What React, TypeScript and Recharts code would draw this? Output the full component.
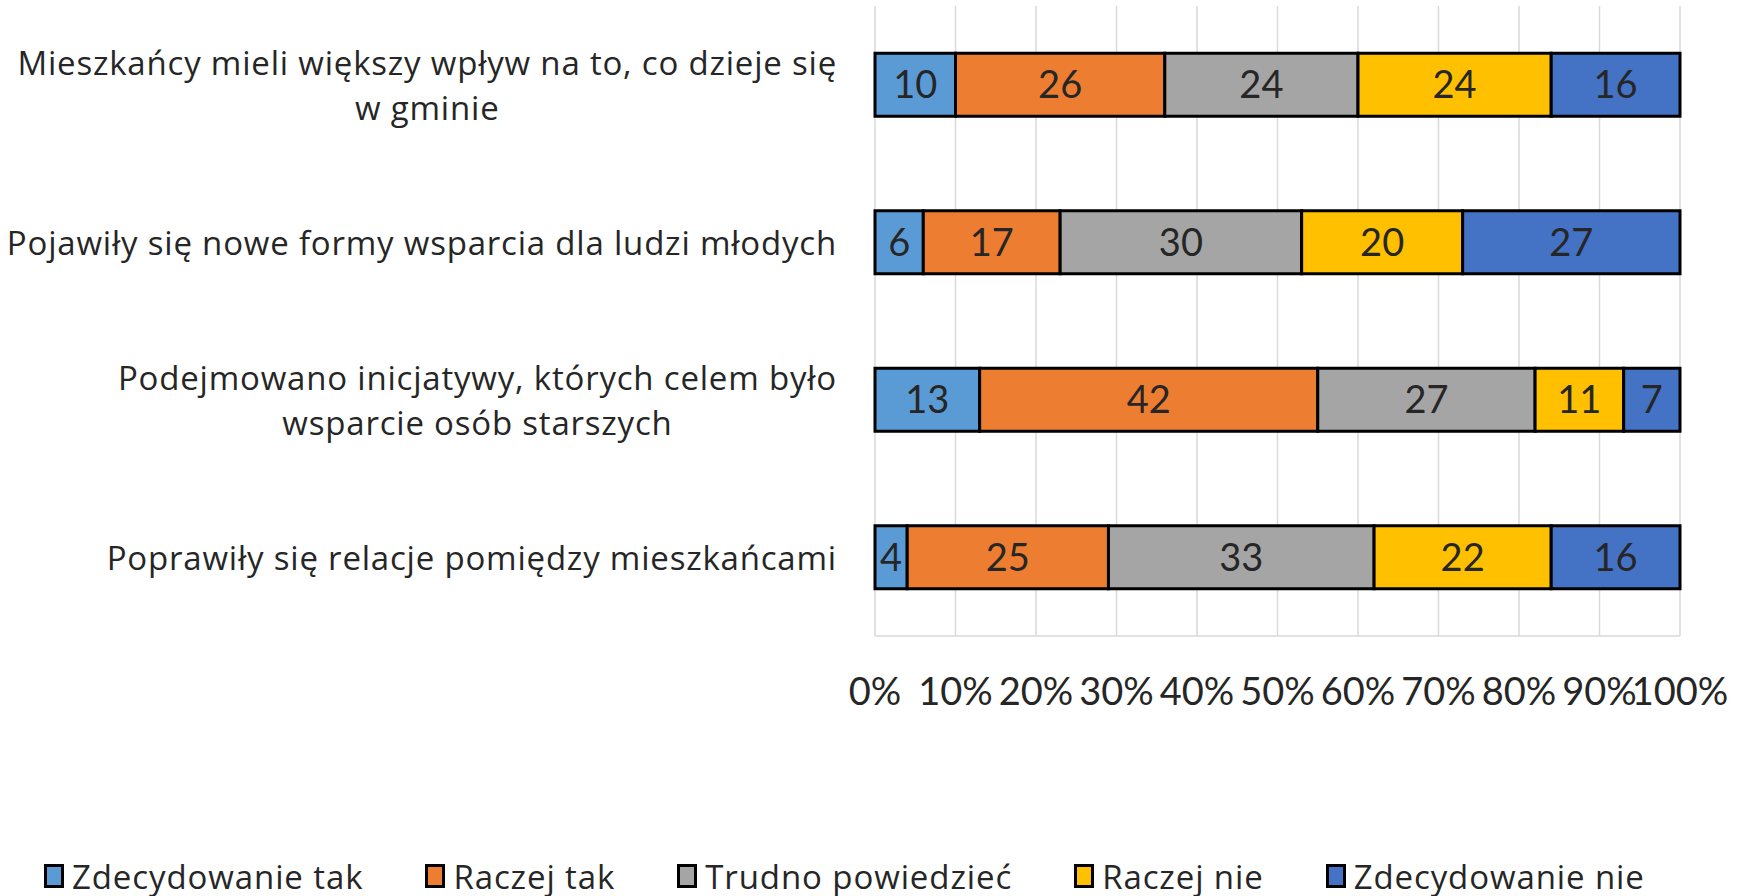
import { Bar, BarChart, CartesianGrid, LabelList, Legend, XAxis, YAxis } from 'recharts';

const categories = [
  'Mieszkańcy mieli większy wpływ na to, co dzieje się\nw gminie',
  'Pojawiły się nowe formy wsparcia dla ludzi młodych',
  'Podejmowano inicjatywy, których celem było\nwsparcie osób starszych',
  'Poprawiły się relacje pomiędzy mieszkańcami',
];

const zdecydowanieTak = [10, 6, 13, 4];
const raczejTak = [26, 17, 42, 25];
const trudnoPowiedziec = [24, 30, 27, 33];
const raczejNie = [24, 20, 11, 22];
const zdecydowanieNie = [16, 27, 7, 16];

const xTicks = [0, 10, 20, 30, 40, 50, 60, 70, 80, 90, 100];

const series = [
  { key: 'zt', label: 'Zdecydowanie tak', values: zdecydowanieTak, color: '#5B9BD5' },
  { key: 'rt', label: 'Raczej tak', values: raczejTak, color: '#ED7D31' },
  { key: 'tp', label: 'Trudno powiedzieć', values: trudnoPowiedziec, color: '#A5A5A5' },
  { key: 'rn', label: 'Raczej nie', values: raczejNie, color: '#FFC000' },
  { key: 'zn', label: 'Zdecydowanie nie', values: zdecydowanieNie, color: '#4472C4' },
];

const data = categories.map((name, i) => {
  const row: Record<string, string | number> = { name };
  series.forEach((s) => {
    row[s.key] = s.values[i];
  });
  return row;
});

const textFont = "'Open Sans', sans-serif";
const numFont = "Lato, sans-serif";

const CategoryTick = (props: any) => {
  const { y, payload } = props;
  const lines = String(payload.value).split('\n');
  return (
    <foreignObject x={0} y={y - 60} width={837} height={120}>
      <div
        style={{
          width: 837,
          height: 120,
          display: 'flex',
          alignItems: 'center',
          justifyContent: 'flex-end',
          fontFamily: textFont,
          fontSize: 33,
          letterSpacing: 0.8,
          lineHeight: '45px',
          color: '#262626',
        }}
      >
        <div style={{ textAlign: 'center', whiteSpace: 'nowrap' }}>
          {lines.map((line, i) => (
            <div key={i}>{line}</div>
          ))}
        </div>
      </div>
    </foreignObject>
  );
};

// recharts reverses the legend for vertical layout, put it back in series order
const LegendContent = (props: any) => {
  const order = series.map((s) => s.label);
  const items = [...(props.payload ?? [])].sort(
    (a: any, b: any) => order.indexOf(a.value) - order.indexOf(b.value),
  );
  return (
    <div
      style={{
        display: 'flex',
        alignItems: 'center',
        height: 40,
        paddingLeft: 44,
        gap: 62,
        fontFamily: textFont,
        fontSize: 33,
        letterSpacing: 0.9,
        color: '#262626',
      }}
    >
      {items.map((item: any) => (
        <div key={item.value} style={{ display: 'flex', alignItems: 'center', gap: 8 }}>
          <span
            style={{
              display: 'inline-block',
              width: 14,
              height: 18,
              background: item.color,
              border: '3px solid #000',
            }}
          />
          <span>{item.value}</span>
        </div>
      ))}
    </div>
  );
};

export default function App() {
  return (
    <div style={{ position: 'absolute', left: 0, top: 0, width: 1739, height: 896, background: '#fff' }}>
      <BarChart
        width={1739}
        height={896}
        data={data}
        layout="vertical"
        barCategoryGap="30%"
        margin={{ top: 6, right: 59, bottom: 0, left: 0 }}
      >
        <CartesianGrid horizontal={false} stroke="#d9d9d9" strokeWidth={1.5} />
        <XAxis
          type="number"
          domain={[0, 100]}
          ticks={xTicks}
          tickFormatter={(v) => `${v}%`}
          height={220}
          axisLine={{ stroke: '#d9d9d9', strokeWidth: 1.5 }}
          tickLine={false}
          tickSize={0}
          tickMargin={42}
          interval={0}
          tick={{ fontSize: 38, fill: '#262626', fontFamily: numFont }}
        />
        <YAxis
          type="category"
          dataKey="name"
          width={875}
          axisLine={false}
          tickLine={false}
          tick={<CategoryTick />}
        />
        <Legend
          verticalAlign="bottom"
          content={<LegendContent />}
          wrapperStyle={{ left: 0, bottom: 0, width: 1739, height: 40 }}
        />
        {series.map((s) => (
          <Bar
            key={s.key}
            dataKey={s.key}
            name={s.label}
            stackId="a"
            fill={s.color}
            stroke="#000"
            strokeWidth={3}
            isAnimationActive={false}
          >
            <LabelList
              dataKey={s.key}
              position="center"
              fill="#262626"
              style={{ fontSize: 38, fontFamily: numFont }}
            />
          </Bar>
        ))}
      </BarChart>
    </div>
  );
}
